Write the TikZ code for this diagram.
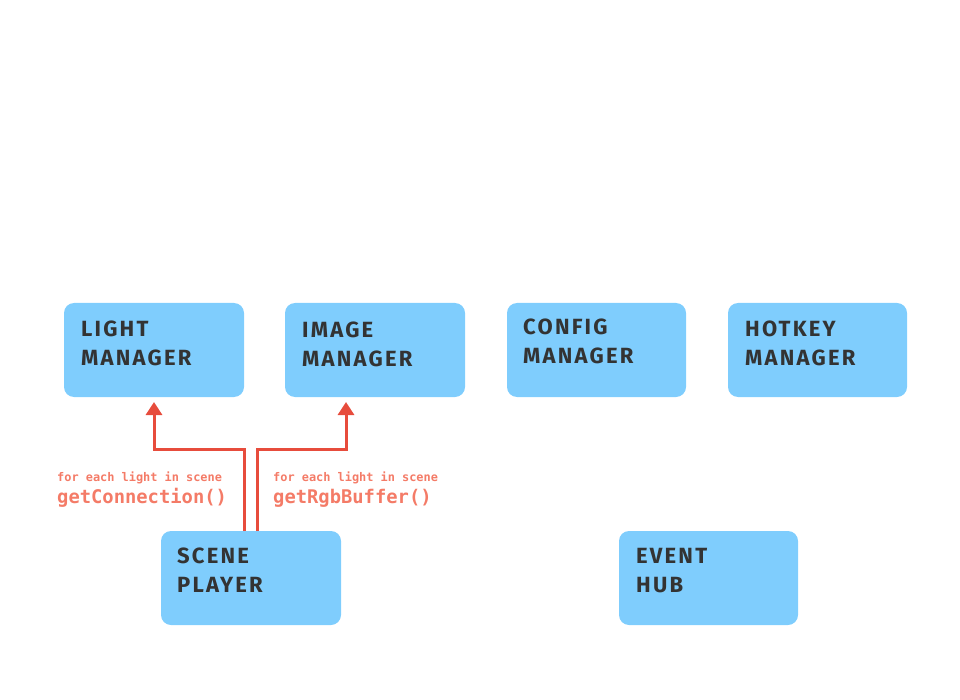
\documentclass[tikz,border=0pt]{standalone}
\usepackage{fontspec}
\newfontfamily\boxfont{Fira Sans}[LetterSpace=10]
\newfontfamily\codefont{DejaVu Sans Mono}
\usetikzlibrary{arrows.meta}
\definecolor{boxblue}{HTML}{7FCDFD}
\definecolor{boxtext}{HTML}{333333}
\definecolor{arrowred}{HTML}{E74C3C}
\definecolor{labelred}{HTML}{F47B67}
\tikzset{
  comp/.style={fill=boxblue, rounded corners=10pt, draw=none},
  comptext/.style={anchor=north west, inner sep=0pt, align=left, text=boxtext,
    font=\boxfont\bfseries\fontsize{22}{29}\selectfont},
  link/.style={draw=arrowred, line width=3pt, -{Triangle[length=13pt,width=16pt]}},
  smalllbl/.style={anchor=base west, inner sep=0pt, text=labelred, font=\codefont\bfseries\fontsize{11.9}{14}\selectfont},
  biglbl/.style={anchor=base west, inner sep=0pt, text=labelred, font=\codefont\bfseries\fontsize{18.8}{22}\selectfont},
}
\begin{document}
\begin{tikzpicture}[x=1pt,y=-1pt]
\useasboundingbox (0,0) rectangle (960,700);
% boxes
\path[comp] (64,303) rectangle (244,397);
\node[inner sep=0pt] (light) at (154,350) {};
\path[comp] (285,303) rectangle (465,397);
\node[inner sep=0pt] (image) at (375,350) {};
\path[comp] (507,303) rectangle (686,397);
\node[inner sep=0pt] (config) at (596,350) {};
\path[comp] (728,303) rectangle (907,397);
\node[inner sep=0pt] (hotkey) at (817,350) {};
\path[comp] (161,531) rectangle (341,625);
\node[inner sep=0pt] (scene) at (251,578) {};
\path[comp] (619,531) rectangle (798,625);
\node[inner sep=0pt] (event) at (708,578) {};
% texts
\node[comptext] (lighttxt) at (81,321) {LIGHT\\MANAGER};
\node[comptext] (imagetxt) at (302,322) {IMAGE\\MANAGER};
\node[comptext] (configtxt) at (523,319) {CONFIG\\MANAGER};
\node[comptext] (hotkeytxt) at (745,321) {HOTKEY\\MANAGER};
\node[comptext] (scenetxt) at (177,548) {SCENE\\PLAYER};
\node[comptext] (eventtxt) at (636,548) {EVENT\\HUB};
% connectors
\coordinate (s1) at (244,531);
\coordinate (s2) at (257,531);
\coordinate (t1) at (154,402);
\coordinate (t2) at (346,402);
\draw[link] (s1) -- (244,449) -- (154,449) -- (t1);
\draw[link] (s2) -- (257,449) -- (346,449) -- (t2);
% labels
\node[smalllbl] (l1a) at (57,481) {for each light in scene};
\node[biglbl] (l1b) at (57,503) {getConnection()};
\node[smalllbl] (l2a) at (273,481) {for each light in scene};
\node[biglbl] (l2b) at (273,503) {getRgbBuffer()};
\end{tikzpicture}
\end{document}
